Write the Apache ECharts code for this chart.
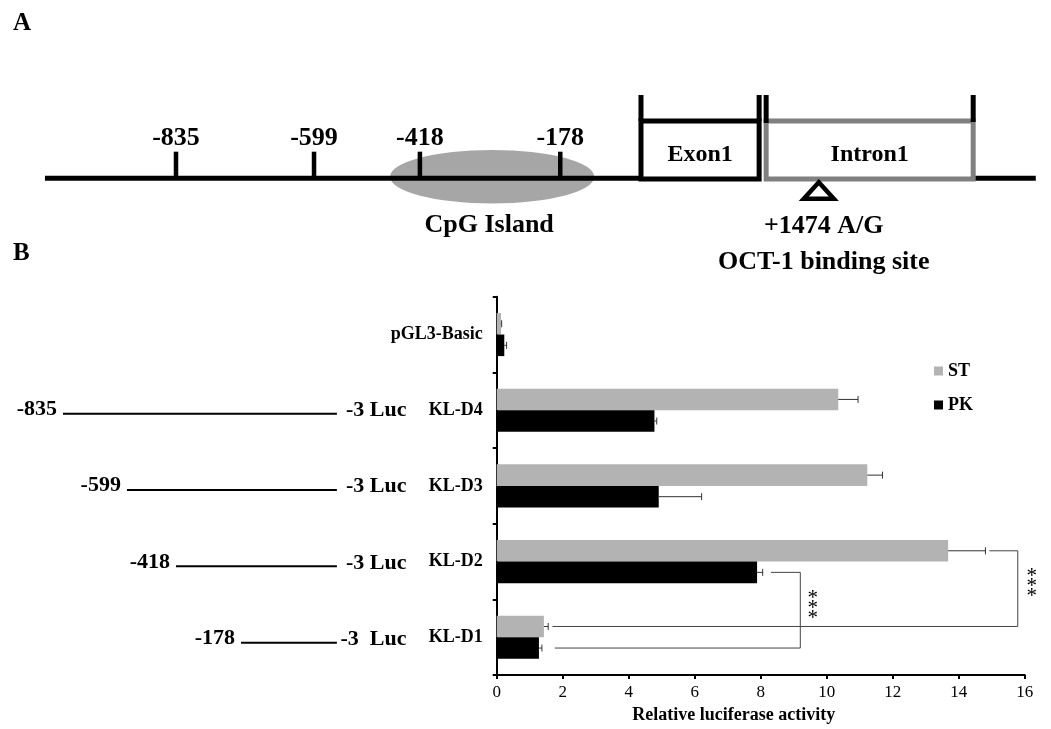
<!DOCTYPE html>
<html>
<head>
<meta charset="utf-8">
<script src="https://cdn.jsdelivr.net/npm/echarts@6/dist/echarts.min.js"></script>
<style>
html,body{margin:0;padding:0;background:#fff;}
#chart{width:1051px;height:729px;}
</style>
</head>
<body>
<div id="chart"></div>
<script>
// ---------- Panel B : luciferase assay ----------
const categories = ['pGL3-Basic', 'KL-D4', 'KL-D3', 'KL-D2', 'KL-D1'];
const seriesNames = ['ST', 'PK'];
const stValues = [0.13, 10.35, 11.23, 13.68, 1.43];
const stErrors = [0.02, 0.60, 0.46, 1.13, 0.13];
const pkValues = [0.23, 4.78, 4.91, 7.89, 1.28];
const pkErrors = [0.07, 0.07, 1.30, 0.17, 0.09];
const xAxisRange = [0, 16];
const xAxisStep = 2;
const xAxisTitle = 'Relative luciferase activity';

// promoter deletion constructs (start position, bp)
const constructCats = ['KL-D4', 'KL-D3', 'KL-D2', 'KL-D1'];
const constructStarts = [-835, -599, -418, -178];
const constructEndLabels = ['-3 Luc', '-3 Luc', '-3 Luc', '-3  Luc'];

// significance brackets
const sigSeries = ['PK', 'ST'];
const sigFrom = ['KL-D2', 'KL-D2'];
const sigTo = ['KL-D1', 'KL-D1'];
const sigTopStart = [8.31, 14.93];
const sigBracketX = [9.20, 15.79];
const sigBottomStart = [1.76, 1.69];
const sigStarX = [9.58, 16.21];
const sigLabels = ['***', '***'];

// ---------- Panel A : gene schematic (not to scale) ----------
const promoterSites = [-835, -599, -418, -178];
const cpgIsland = [-469, -120];
const cpgLabel = 'CpG Island';
const exon1 = [-40, 162];
const intron1 = [174, 528];
const regionLabels = ['Exon1', 'Intron1'];
const geneExtent = [-1059, 635];
const snpPos = 264;
const snpLabels = ['+1474 A/G', 'OCT-1 binding site'];

// ---------- styles ----------
const SERIF = '"Liberation Serif","Times New Roman",Times,serif';
const ST_COLOR = '#b3b3b3';
const PK_COLOR = '#000000';
const BAR_CAT_GAP = 0.43;
const sideOf = { ST: -1, PK: 1 };

function halfBar(api) {
  const band = api.size([0, 1])[1];
  return band * (1 - BAR_CAT_GAP) / 4;
}
function boldFont(size) { return 'bold ' + size + 'px ' + SERIF; }

const chart = echarts.init(document.getElementById('chart'), null, { renderer: 'canvas' });

const errData = [];
categories.forEach((c, i) => {
  errData.push([i, stValues[i], stErrors[i], sideOf.ST]);
  errData.push([i, pkValues[i], pkErrors[i], sideOf.PK]);
});

const sigData = sigSeries.map((s, k) => [
  categories.indexOf(sigFrom[k]), sigTopStart[k], sigBracketX[k],
  categories.indexOf(sigTo[k]), sigBottomStart[k], sigStarX[k], sideOf[s], k
]);

const constructData = constructCats.map((c, k) => [categories.indexOf(c), constructStarts[k], k]);
const constructEnd = 176;

const option = {
  animation: false,
  backgroundColor: '#ffffff',
  textStyle: { fontFamily: SERIF, color: '#000' },
  title: [
    { text: 'A', left: 13, top: 11, padding: 0, textStyle: { fontFamily: SERIF, fontSize: 25, fontWeight: 'bold', color: '#000' } },
    { text: 'B', left: 13, top: 241, padding: 0, textStyle: { fontFamily: SERIF, fontSize: 25, fontWeight: 'bold', color: '#000' } }
  ],
  legend: {
    data: seriesNames,
    orient: 'vertical',
    left: 934, top: 362,
    padding: 0,
    itemWidth: 9, itemHeight: 9, itemGap: 16,
    icon: 'rect',
    textStyle: { fontFamily: SERIF, fontWeight: 'bold', fontSize: 18, color: '#000' }
  },
  grid: [
    { left: 496.7, width: 528, top: 296.7, height: 381.6 },
    { left: 18.3, width: 325.1, top: 296.7, height: 381.6 },
    { left: 21, width: 1029.4, top: 100, height: 78.3 }
  ],
  xAxis: [
    {
      gridIndex: 0, type: 'value', min: xAxisRange[0], max: xAxisRange[1], interval: xAxisStep,
      axisLine: { show: true, lineStyle: { color: '#000', width: 2 } },
      axisTick: { show: true, length: 4, lineStyle: { color: '#000', width: 2 } },
      splitLine: { show: false },
      axisLabel: { fontFamily: SERIF, fontSize: 17, color: '#000', margin: 9 },
      name: xAxisTitle, nameLocation: 'middle', nameGap: 29,
      nameTextStyle: { fontFamily: SERIF, fontSize: 18, fontWeight: 'bold', color: '#000', padding: [0, 54, 0, 0] }
    },
    { gridIndex: 1, type: 'value', min: -1000, max: 200, show: false },
    { gridIndex: 2, type: 'value', min: -1100, max: 660, show: false }
  ],
  yAxis: [
    {
      gridIndex: 0, type: 'category', data: categories, inverse: true,
      axisLine: { show: true, lineStyle: { color: '#000', width: 2 } },
      axisTick: { show: true, length: 4, lineStyle: { color: '#000', width: 2 } },
      axisLabel: { fontFamily: SERIF, fontSize: 18, fontWeight: 'bold', color: '#000', margin: 14 }
    },
    { gridIndex: 1, type: 'category', data: categories, inverse: true, show: false },
    { gridIndex: 2, type: 'value', min: 0, max: 1, show: false }
  ],
  series: [
    {
      name: 'ST', type: 'bar', xAxisIndex: 0, yAxisIndex: 0, data: stValues,
      itemStyle: { color: ST_COLOR }, barGap: '0%', barCategoryGap: (BAR_CAT_GAP * 100) + '%'
    },
    {
      name: 'PK', type: 'bar', xAxisIndex: 0, yAxisIndex: 0, data: pkValues,
      itemStyle: { color: PK_COLOR }, barGap: '0%', barCategoryGap: (BAR_CAT_GAP * 100) + '%'
    },
    {
      type: 'custom', xAxisIndex: 0, yAxisIndex: 0, data: errData, clip: false,
      encode: { x: 1, y: 0 }, z: 3,
      renderItem: function (params, api) {
        const ci = api.value(0), v = api.value(1), e = api.value(2), s = api.value(3);
        const p0 = api.coord([v, ci]);
        const p1 = api.coord([v + e, ci]);
        const y = p0[1] + s * halfBar(api);
        return {
          type: 'group', children: [
            { type: 'line', shape: { x1: p0[0], y1: y, x2: p1[0], y2: y }, style: { stroke: '#333', lineWidth: 1 } },
            { type: 'line', shape: { x1: p1[0], y1: y - 3.5, x2: p1[0], y2: y + 3.5 }, style: { stroke: '#333', lineWidth: 1 } }
          ]
        };
      }
    },
    {
      type: 'custom', xAxisIndex: 0, yAxisIndex: 0, data: sigData, clip: false,
      encode: { x: 2, y: 0 }, z: 3,
      renderItem: function (params, api) {
        const fi = api.value(0), xt = api.value(1), xb = api.value(2), ti = api.value(3),
              xs = api.value(4), xstar = api.value(5), s = api.value(6), k = api.value(7);
        const off = s * halfBar(api);
        const a = api.coord([xt, fi]), b = api.coord([xb, fi]);
        const c = api.coord([xb, ti]), d = api.coord([xs, ti]);
        const y1 = a[1] + off, y2 = c[1] + off;
        const st = api.coord([xstar, fi]);
        return {
          type: 'group', children: [
            { type: 'polyline', shape: { points: [[a[0], y1], [b[0], y1], [c[0], y2], [d[0], y2]] },
              style: { stroke: '#444', lineWidth: 1, fill: null } },
            { type: 'text', x: st[0], y: (y1 + y2) / 2 - 2,
              style: { text: sigLabels[k].split('').join('\n'), fill: '#000', font: '21px ' + SERIF,
                       lineHeight: 10, align: 'center', verticalAlign: 'middle' } }
          ]
        };
      }
    },
    {
      type: 'custom', xAxisIndex: 1, yAxisIndex: 1, data: constructData, clip: false,
      encode: { x: 1, y: 0 },
      renderItem: function (params, api) {
        const ci = api.value(0), start = api.value(1), k = api.value(2);
        const p0 = api.coord([start, ci]);
        const p1 = api.coord([constructEnd, ci]);
        const yl = p0[1] + 2.5;
        return {
          type: 'group', children: [
            { type: 'line', shape: { x1: p0[0], y1: yl, x2: p1[0], y2: yl }, style: { stroke: '#000', lineWidth: 2 } },
            { type: 'text', x: p0[0] - 6, y: p0[1] - 1.7,
              style: { text: String(start), fill: '#000', font: boldFont(22), align: 'right', verticalAlign: 'middle' } },
            { type: 'text', x: p1[0] + 69.5, y: p0[1] - 1,
              style: { text: constructEndLabels[k], fill: '#000', font: boldFont(22), align: 'right', verticalAlign: 'middle' } }
          ]
        };
      }
    },
    // Panel A: CpG island ellipse
    {
      type: 'custom', xAxisIndex: 2, yAxisIndex: 2, data: [[cpgIsland[0], 0, cpgIsland[1]]], clip: false,
      encode: { x: 0, y: 1 },
      renderItem: function (params, api) {
        const l = api.coord([api.value(0), 0]), r = api.coord([api.value(2), 0]);
        const cx = (l[0] + r[0]) / 2;
        return {
          type: 'group', children: [
            { type: 'ellipse', shape: { cx: cx, cy: l[1] - 1.6, rx: (r[0] - l[0]) / 2, ry: 26.7 }, style: { fill: '#a6a6a6' } },
            { type: 'text', x: cx - 3, y: l[1] + 46.6,
              style: { text: cpgLabel, fill: '#000', font: boldFont(26), align: 'center', verticalAlign: 'middle' } }
          ]
        };
      }
    },
    // Panel A: gene line, exon and intron
    {
      type: 'custom', xAxisIndex: 2, yAxisIndex: 2, data: [[exon1[0], 0]], clip: false,
      encode: { x: 0, y: 1 },
      renderItem: function (params, api) {
        const g0 = api.coord([geneExtent[0], 0]), g1 = api.coord([geneExtent[1], 0]);
        const e0 = api.coord([exon1[0], 0]), e1 = api.coord([exon1[1], 0]);
        const i0 = api.coord([intron1[0], 0]), i1 = api.coord([intron1[1], 0]);
        const y = g0[1];
        const top = y - 57.3, ext = y - 83.3;
        const black = { stroke: '#000', lineWidth: 5 };
        return {
          type: 'group', children: [
            { type: 'line', shape: { x1: g0[0], y1: y, x2: e0[0], y2: y }, style: black },
            { type: 'line', shape: { x1: i1[0], y1: y, x2: g1[0], y2: y }, style: black },
            { type: 'rect', shape: { x: e0[0], y: top, width: e1[0] - e0[0], height: y - top + 0.7 },
              style: { stroke: '#000', lineWidth: 5, fill: null } },
            { type: 'rect', shape: { x: i0[0], y: top, width: i1[0] - i0[0], height: y - top + 0.7 },
              style: { stroke: '#808080', lineWidth: 5, fill: null } },
            { type: 'line', shape: { x1: e0[0], y1: ext, x2: e0[0], y2: top }, style: black },
            { type: 'line', shape: { x1: e1[0], y1: ext, x2: e1[0], y2: top }, style: black },
            { type: 'line', shape: { x1: i0[0], y1: ext, x2: i0[0], y2: top + 2 }, style: black },
            { type: 'line', shape: { x1: i1[0], y1: ext, x2: i1[0], y2: top + 1 }, style: black },
            { type: 'text', x: (e0[0] + e1[0]) / 2, y: y - 24,
              style: { text: regionLabels[0], fill: '#000', font: boldFont(24), align: 'center', verticalAlign: 'middle' } },
            { type: 'text', x: (i0[0] + i1[0]) / 2, y: y - 24,
              style: { text: regionLabels[1], fill: '#000', font: boldFont(24), align: 'center', verticalAlign: 'middle' } }
          ]
        };
      }
    },
    // Panel A: promoter deletion sites
    {
      type: 'custom', xAxisIndex: 2, yAxisIndex: 2, data: promoterSites.map(v => [v, 0]), clip: false,
      encode: { x: 0, y: 1 },
      renderItem: function (params, api) {
        const v = api.value(0);
        const p = api.coord([v, 0]);
        return {
          type: 'group', children: [
            { type: 'line', shape: { x1: p[0], y1: p[1] - 26.6, x2: p[0], y2: p[1] }, style: { stroke: '#000', lineWidth: 4.5 } },
            { type: 'text', x: p[0], y: p[1] - 40.5,
              style: { text: String(v), fill: '#000', font: boldFont(26), align: 'center', verticalAlign: 'middle' } }
          ]
        };
      }
    },
    // Panel A: SNP / OCT-1 site
    {
      type: 'custom', xAxisIndex: 2, yAxisIndex: 2, data: [[snpPos, 0]], clip: false,
      encode: { x: 0, y: 1 },
      renderItem: function (params, api) {
        const p = api.coord([api.value(0), 0]);
        const x = p[0], y = p[1];
        return {
          type: 'group', children: [
            { type: 'polygon', shape: { points: [[x, y + 4], [x + 15, y + 20.5], [x - 15, y + 20.5]] },
              style: { stroke: '#000', lineWidth: 4.5, fill: '#fff', lineJoin: 'miter' } },
            { type: 'text', x: x + 5, y: y + 48.2,
              style: { text: snpLabels[0], fill: '#000', font: boldFont(26), align: 'center', verticalAlign: 'middle' } },
            { type: 'text', x: x + 5, y: y + 84.2,
              style: { text: snpLabels[1], fill: '#000', font: boldFont(26), align: 'center', verticalAlign: 'middle' } }
          ]
        };
      }
    }
  ]
};

chart.setOption(option);
</script>
</body>
</html>
